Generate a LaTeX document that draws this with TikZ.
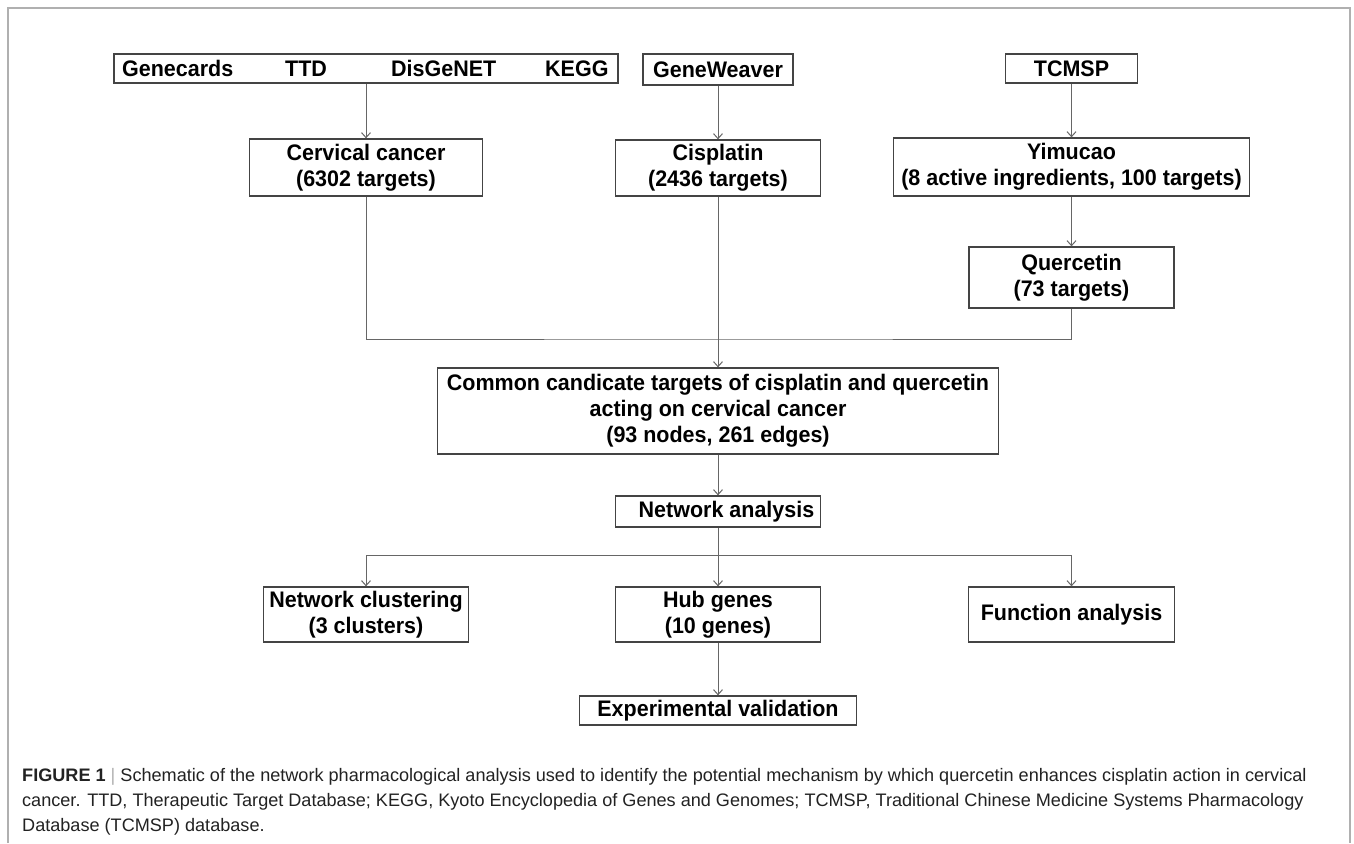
\documentclass[tikz,border=0pt]{standalone}
\usepackage{fontspec}
\setmainfont{Liberation Sans}
\newfontfamily\boxfont[FakeStretch=0.955]{Liberation Sans}
\newfontfamily\capfont{Liberation Sans}
\usetikzlibrary{arrows.meta}
\definecolor{boxline}{HTML}{444444}
\definecolor{conn}{HTML}{666666}
\definecolor{frame}{HTML}{B0B0B0}
\definecolor{captext}{HTML}{222222}
\tikzset{
  box/.style={draw=boxline, line width=1.3pt, inner sep=0pt, align=center,
    font=\boxfont\bfseries\fontsize{22.5}{26}\selectfont},
  wordtxt/.style={inner sep=0pt, font=\boxfont\bfseries\fontsize{22.5}{26}\selectfont},
  conline/.style={draw=conn, line width=1pt},
  arr/.style={conline, -{Straight Barb[length=5pt,width=9pt,line width=1pt]}},
  captxt/.style={inner sep=0pt, anchor=west, text=captext,
    font=\capfont\fontsize{18.1}{25}\selectfont}
}
\begin{document}
\begin{tikzpicture}[x=1pt,y=-1pt]
\useasboundingbox (0,0) rectangle (1354,843);
\fill[white] (0,0) rectangle (1354,843);
\draw[frame, line width=1.2pt] (8,843) -- (8,8) -- (1350,8) -- (1350,843);

% top row
\node[box, minimum width=504pt, minimum height=29pt] (src) at (366,68.5) {};
\node[wordtxt, anchor=west] (w1) at (122,68.5) {Genecards};
\node[wordtxt, anchor=west] (w2) at (285,68.5) {TTD};
\node[wordtxt, anchor=west] (w3) at (391,68.5) {DisGeNET};
\node[wordtxt, anchor=west] (w4) at (545,68.5) {KEGG};
\node[box, minimum width=150pt, minimum height=31pt] (gw) at (718,69.5) {GeneWeaver};
\node[box, minimum width=132pt, minimum height=29pt] (tcmsp) at (1071.5,68.5) {TCMSP};

% second row
\node[box, minimum width=233pt, minimum height=57pt] (cerv) at (366,167.5) {Cervical cancer\\(6302 targets)};
\node[box, minimum width=205pt, minimum height=56pt] (cis) at (718,168) {Cisplatin\\(2436 targets)};
\node[box, minimum width=356pt, minimum height=58pt] (yim) at (1071.5,167) {Yimucao\\(8 active ingredients, 100 targets)};
\node[box, minimum width=205pt, minimum height=61pt] (quer) at (1071.5,277.5) {Quercetin\\(73 targets)};

% common
\node[box, minimum width=561pt, minimum height=86pt] (common) at (718,411) {Common candicate targets of cisplatin and quercetin\\acting on cervical cancer\\(93 nodes, 261 edges)};
\node[box, minimum width=205pt, minimum height=31pt] (net) at (718,511.5) {\hspace*{17pt}Network analysis};

% bottom rows
\node[box, minimum width=205pt, minimum height=55pt] (clus) at (366,614.5) {Network clustering\\(3 clusters)};
\node[box, minimum width=205pt, minimum height=55pt] (hub) at (718,614.5) {Hub genes\\(10 genes)};
\node[box, minimum width=206pt, minimum height=55pt] (func) at (1071.5,614.5) {Function analysis};
\node[box, minimum width=277pt, minimum height=29pt] (exp) at (718,710.5) {Experimental validation};

% connectors
\coordinate (join) at (718,339);
\coordinate (branch) at (718,555);
\draw[arr] (src.south) -- (cerv.north);
\draw[arr] (gw.south) -- (cis.north);
\draw[arr] (tcmsp.south) -- (yim.north);
\draw[arr] (yim.south) -- (quer.north);
\draw[conline] (cerv.south) |- (join) -| (quer.south);
\draw[arr] (cis.south) -- (common.north);
\draw[arr] (common.south) -- (net.north);
\draw[arr] (net.south) -- (hub.north);
\draw[arr] (branch) -| (clus.north);
\draw[arr] (branch) -| (func.north);
\draw[arr] (hub.south) -- (exp.north);

% caption
\node[captxt] (cap1) at (22,777) {{\bfseries FIGURE 1} {\color{frame}|} Schematic of the network pharmacological analysis used to identify the potential mechanism by which quercetin enhances cisplatin action in cervical};
\node[captxt] (cap2) at (22,802) {cancer. TTD, Therapeutic Target Database; KEGG, Kyoto Encyclopedia of Genes and Genomes; TCMSP, Traditional Chinese Medicine Systems Pharmacology};
\node[captxt] (cap3) at (22,827) {Database (TCMSP) database.};
\end{tikzpicture}
\end{document}
